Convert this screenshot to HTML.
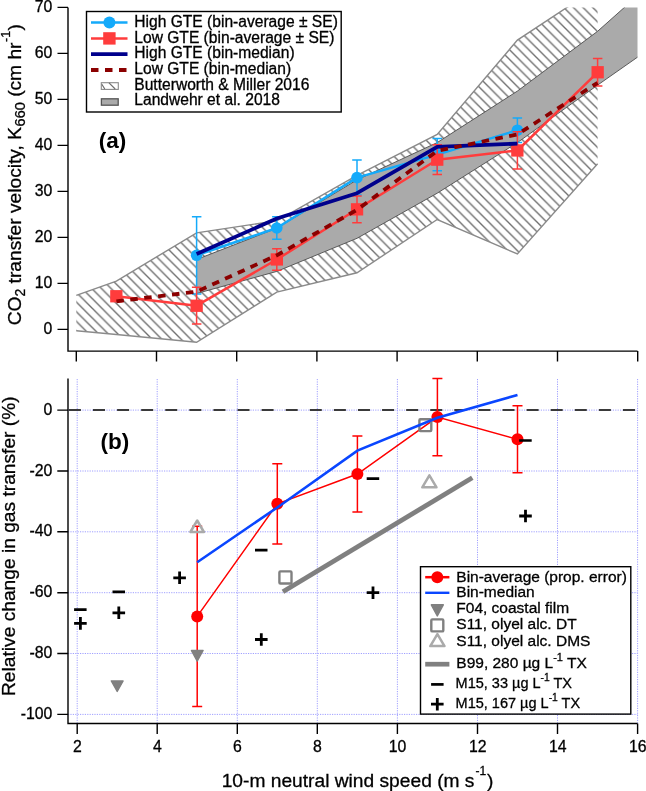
<!DOCTYPE html>
<html><head><meta charset="utf-8"><title>Gas transfer figure</title>
<style>
html,body{margin:0;padding:0;background:#fff;}
body{width:646px;height:791px;overflow:hidden;}
svg{display:block;}
text{font-family:"Liberation Sans",sans-serif;fill:#000;stroke:#000;stroke-width:0.3px;}
svg{will-change:transform;}
.tk{font-size:15.8px;}
.lg{font-size:15.5px;}
.at{font-size:19.2px;}
.pl{font-size:22.5px;font-weight:bold;stroke-width:0;}
</style></head><body>
<svg width="646" height="791" viewBox="0 0 646 791"><defs>
<clipPath id="ct"><rect x="68.0" y="7.4" width="569.5" height="343.70000000000005"/></clipPath>
<clipPath id="cb"><rect x="68.0" y="375.5" width="572.5" height="348.0"/></clipPath>
<pattern id="hp" patternUnits="userSpaceOnUse" width="9.654" height="9.654" x="6.05" y="0"><path d="M-2.4135,-2.4135 L12.067499999999999,12.067499999999999 M-2.4135,7.2405 L2.4135,12.067499999999999 M7.2405,-2.4135 L12.067499999999999,2.4135" stroke="#6e6e6e" stroke-width="1.35"/></pattern>
</defs>
<g clip-path="url(#ct)">
<polygon points="76.3,295.4 116.4,281.1 196.6,232.8 276.8,220.8 357,175.3 437.2,134.4 517.4,40.1 597.6,-12.8 597.6,163.8 517.4,254 437.2,219.5 357,272.8 276.8,292.1 196.6,342.3 116.4,334.5 76.3,330.8" fill="url(#hp)"/>
<polyline points="76.3,295.4 116.4,281.1 196.6,232.8 276.8,220.8 357,175.3 437.2,134.4 517.4,40.1 597.6,-12.8" fill="none" stroke="#8a8a8a" stroke-width="1.4"/>
<polyline points="76.3,330.8 116.4,334.5 196.6,342.3 276.8,292.1 357,272.8 437.2,219.5 517.4,254 597.6,163.8" fill="none" stroke="#8a8a8a" stroke-width="1.4"/>
<polygon points="196.6,259.5 276.8,228.2 357,179.9 437.2,142.6 517.4,91.1 597.6,31.3 638.9,-5.5 638.9,56.2 597.6,85.1 517.4,142.6 437.2,193.2 357,238.3 276.8,271.4 196.6,293.5" fill="#aaaaaa"/>
<polyline points="196.6,259.5 276.8,228.2 357,179.9 437.2,142.6 517.4,91.1 597.6,31.3 638.9,-5.5" fill="none" stroke="#5a5a5a" stroke-width="1"/>
<polyline points="196.6,293.5 276.8,271.4 357,238.3 437.2,193.2 517.4,142.6 597.6,85.1 638.9,56.2" fill="none" stroke="#5a5a5a" stroke-width="1"/>
<polyline points="196.6,255.3 276.8,228 357,177.6 437.2,154.6 517.4,130.2" fill="none" stroke="#14aafa" stroke-width="2.5" stroke-linejoin="round"/>
<path d="M196.6,216.7V294M191.9,216.7h9.5M191.9,294h9.5" stroke="#14aafa" stroke-width="1.5" fill="none"/>
<path d="M276.8,216.7V239.2M272.1,216.7h9.5M272.1,239.2h9.5" stroke="#14aafa" stroke-width="1.5" fill="none"/>
<path d="M357,160.1V195.1M352.2,160.1h9.5M352.2,195.1h9.5" stroke="#14aafa" stroke-width="1.5" fill="none"/>
<path d="M437.2,138.5V170.7M432.5,138.5h9.5M432.5,170.7h9.5" stroke="#14aafa" stroke-width="1.5" fill="none"/>
<path d="M517.4,118V142.4M512.6,118h9.5M512.6,142.4h9.5" stroke="#14aafa" stroke-width="1.5" fill="none"/>
<circle cx="196.6" cy="255.3" r="5.8" fill="#14aafa"/>
<circle cx="276.8" cy="228" r="5.8" fill="#14aafa"/>
<circle cx="357" cy="177.6" r="5.8" fill="#14aafa"/>
<circle cx="437.2" cy="154.6" r="5.8" fill="#14aafa"/>
<circle cx="517.4" cy="130.2" r="5.8" fill="#14aafa"/>
<polyline points="116.4,296.3 196.6,305.7 276.8,259.5 357,209.3 437.2,159.7 517.4,150.5 597.6,72.3" fill="none" stroke="#ff3c3c" stroke-width="2.5" stroke-linejoin="round"/>
<path d="M116.4,293.5V299M111.7,293.5h9.5M111.7,299h9.5" stroke="#ff3c3c" stroke-width="1.5" fill="none"/>
<path d="M196.6,287.3V324.1M191.9,287.3h9.5M191.9,324.1h9.5" stroke="#ff3c3c" stroke-width="1.5" fill="none"/>
<path d="M276.8,248.7V270.3M272.1,248.7h9.5M272.1,270.3h9.5" stroke="#ff3c3c" stroke-width="1.5" fill="none"/>
<path d="M357,196V222.7M352.2,196h9.5M352.2,222.7h9.5" stroke="#ff3c3c" stroke-width="1.5" fill="none"/>
<path d="M437.2,144.7V174.6M432.5,144.7h9.5M432.5,174.6h9.5" stroke="#ff3c3c" stroke-width="1.5" fill="none"/>
<path d="M517.4,131.8V169.1M512.6,131.8h9.5M512.6,169.1h9.5" stroke="#ff3c3c" stroke-width="1.5" fill="none"/>
<path d="M597.6,58.5V86.1M592.9,58.5h9.5M592.9,86.1h9.5" stroke="#ff3c3c" stroke-width="1.5" fill="none"/>
<rect x="110.2" y="290.1" width="12.3" height="12.3" fill="#ff3c3c"/>
<rect x="190.5" y="299.6" width="12.3" height="12.3" fill="#ff3c3c"/>
<rect x="270.7" y="253.3" width="12.3" height="12.3" fill="#ff3c3c"/>
<rect x="350.9" y="203.2" width="12.3" height="12.3" fill="#ff3c3c"/>
<rect x="431.1" y="153.5" width="12.3" height="12.3" fill="#ff3c3c"/>
<rect x="511.2" y="144.3" width="12.3" height="12.3" fill="#ff3c3c"/>
<rect x="591.5" y="66.1" width="12.3" height="12.3" fill="#ff3c3c"/>
<polyline points="196.6,254 276.8,218.5 357,193.2 437.2,146.8 517.4,143.6" fill="none" stroke="#00008c" stroke-width="3.8" stroke-linejoin="round"/>
<polyline points="116.4,301.3 196.6,291.7 276.8,255.3 357,209.8 437.2,150.9 517.4,134.4 597.6,82.8" fill="none" stroke="#8b0000" stroke-width="3.8" stroke-dasharray="7.5 6.5"/>
</g>
<g stroke="#000" stroke-width="1.4" fill="none">
<path d="M68.0,7.4V351.1H637.5"/>
<path d="M57.5,329.4H68.0M57.5,283.4H68.0M57.5,237.4H68.0M57.5,191.4H68.0M57.5,145.4H68.0M57.5,99.4H68.0M57.5,53.4H68.0M57.5,7.4H68.0M76.3,351.1V361.5M156.5,351.1V361.5M236.7,351.1V361.5M316.9,351.1V361.5M397.1,351.1V361.5M477.3,351.1V361.5M557.5,351.1V361.5M637.7,351.1V361.5"/>
</g>
<path d="M77.2,379.0V723.5M157.2,379.0V723.5M237.3,379.0V723.5M317.3,379.0V723.5M397.4,379.0V723.5M477.5,379.0V723.5M557.5,379.0V723.5M637.6,379.0V723.5M68.0,410.1H637.5M68.0,471H637.5M68.0,531.8H637.5M68.0,592.7H637.5M68.0,653.5H637.5M68.0,714.4H637.5" stroke="#a0a0ff" stroke-width="1" stroke-dasharray="1.2 1.2" fill="none"/>
<path d="M68.9,410.1H637.5" stroke="#3a3a3a" stroke-width="2" stroke-dasharray="12 12.09" fill="none"/>
<g clip-path="url(#cb)">
<path d="M282.9,591.8L472.3,477.7" stroke="#808080" stroke-width="4.8" fill="none"/>
<polyline points="197.2,616.4 277.3,503.8 357.4,474 437.4,417.1 517.5,439.3" fill="none" stroke="#ff0000" stroke-width="1.5"/>
<path d="M197.2,526.3V706.5M192.2,526.3h10M192.2,706.5h10" stroke="#ff0000" stroke-width="1.5" fill="none"/>
<path d="M277.3,463.7V544M272.3,463.7h10M272.3,544h10" stroke="#ff0000" stroke-width="1.5" fill="none"/>
<path d="M357.4,436V512M352.4,436h10M352.4,512h10" stroke="#ff0000" stroke-width="1.5" fill="none"/>
<path d="M437.4,378.5V455.7M432.4,378.5h10M432.4,455.7h10" stroke="#ff0000" stroke-width="1.5" fill="none"/>
<path d="M517.5,405.8V472.8M512.5,405.8h10M512.5,472.8h10" stroke="#ff0000" stroke-width="1.5" fill="none"/>
<circle cx="197.2" cy="616.4" r="6" fill="#ff0000"/>
<circle cx="277.3" cy="503.8" r="6" fill="#ff0000"/>
<circle cx="357.4" cy="474" r="6" fill="#ff0000"/>
<circle cx="437.4" cy="417.1" r="6" fill="#ff0000"/>
<circle cx="517.5" cy="439.3" r="6" fill="#ff0000"/>
<path d="M111.3,680.9L123.1,680.9L117.2,691.5Z" fill="#808080" stroke="#808080" stroke-width="1.4" stroke-linejoin="round"/>
<path d="M191.4,650.5L203.1,650.5L197.2,661.1Z" fill="#808080" stroke="#808080" stroke-width="1.4" stroke-linejoin="round"/>
<rect x="279.4" y="571.4" width="12.1" height="12.1" rx="1" fill="none" stroke="#808080" stroke-width="2.4"/>
<rect x="419.4" y="419.2" width="11.9" height="11.9" rx="1" fill="none" stroke="#808080" stroke-width="2.4"/>
<path d="M190.4,532L203.9,532L197.2,520.5Z" fill="none" stroke="#aaaaaa" stroke-width="2.5" stroke-linejoin="round"/>
<path d="M422.3,487.3L436.5,487.3L429.4,475.3Z" fill="none" stroke="#aaaaaa" stroke-width="2.5" stroke-linejoin="round"/>
<path d="M74.1,609.7h12.5" stroke="#000" stroke-width="2.7" fill="none"/>
<path d="M112.5,591.8h12.5" stroke="#000" stroke-width="2.7" fill="none"/>
<path d="M255,550.1h12.5" stroke="#000" stroke-width="2.7" fill="none"/>
<path d="M366.7,478.6h12.5" stroke="#000" stroke-width="2.7" fill="none"/>
<path d="M519.2,440.5h12.5" stroke="#000" stroke-width="2.7" fill="none"/>
<path d="M74.1,623.4h12.6M80.4,617.1v12.6" stroke="#000" stroke-width="2.8" fill="none"/>
<path d="M112.5,612.8h12.6M118.8,606.5v12.6" stroke="#000" stroke-width="2.8" fill="none"/>
<path d="M173.3,577.8h12.6M179.6,571.5v12.6" stroke="#000" stroke-width="2.8" fill="none"/>
<path d="M255,639.5h12.6M261.3,633.2v12.6" stroke="#000" stroke-width="2.8" fill="none"/>
<path d="M366.7,592.7h12.6M373,586.4v12.6" stroke="#000" stroke-width="2.8" fill="none"/>
<path d="M519.2,516h12.6M525.5,509.7v12.6" stroke="#000" stroke-width="2.8" fill="none"/>
<polyline points="197.2,562.2 277.3,507.5 357.4,450.6 437.4,417.7 517.5,394.9" fill="none" stroke="#0a46ff" stroke-width="2.6"/>
</g>
<g stroke="#000" stroke-width="1.4" fill="none">
<path d="M68.0,378.5V723.5H637.5"/>
<path d="M57.3,410.1H68.0M57.3,471H68.0M57.3,531.8H68.0M57.3,592.7H68.0M57.3,653.5H68.0M57.3,714.4H68.0M77.2,723.5V734M157.2,723.5V734M237.3,723.5V734M317.3,723.5V734M397.4,723.5V734M477.5,723.5V734M557.5,723.5V734M637.6,723.5V734"/>
</g>
<rect x="86.5" y="11.5" width="254.7" height="100.5" fill="#fff" stroke="#000" stroke-width="1.4"/>
<path d="M91,22.6H127.5" stroke="#14aafa" stroke-width="2.5"/>
<circle cx="109.4" cy="22.6" r="6" fill="#14aafa"/>
<path d="M91,38.4H127.5" stroke="#ff3c3c" stroke-width="2.5"/>
<rect x="103.2" y="32.199999999999996" width="12.4" height="12.4" fill="#ff3c3c"/>
<path d="M91,54.2H127.5" stroke="#00008c" stroke-width="3.8"/>
<path d="M91,70.0H127.5" stroke="#8b0000" stroke-width="3.8" stroke-dasharray="7.5 6.5"/>
<rect x="101.3" y="82.7" width="17" height="6.7" fill="#fff" stroke="#8a8a8a" stroke-width="1.1"/>
<path d="M101.8,84.2L104.8,89M109,82.9L115.2,89" stroke="#6e6e6e" stroke-width="1.2"/>
<rect x="101.4" y="98.8" width="16.8" height="6.4" fill="#aaaaaa" stroke="#555" stroke-width="1.3"/>
<text x="134.3" y="26.9" class="lg" style="font-size:15.6px">High GTE (bin-average ± SE)</text>
<text x="134.3" y="42.6" class="lg" style="font-size:15.6px">Low GTE (bin-average ± SE)</text>
<text x="134.3" y="58.3" class="lg" style="font-size:15.6px">High GTE (bin-median)</text>
<text x="134.3" y="73.9" class="lg" style="font-size:15.6px">Low GTE (bin-median)</text>
<text x="134.3" y="89.6" class="lg" style="font-size:15.6px">Butterworth &amp; Miller 2016</text>
<text x="134.3" y="105.3" class="lg" style="font-size:15.6px">Landwehr et al. 2018</text>
<rect x="420.5" y="566.7" width="210.3" height="147.4" fill="#fff" stroke="#000" stroke-width="1.4"/>
<path d="M425.2,577.2H449.4" stroke="#ff0000" stroke-width="2.5"/>
<circle cx="437.3" cy="577.2" r="6" fill="#ff0000"/>
<path d="M425.2,592.8H449.4" stroke="#0a46ff" stroke-width="2.4"/>
<path d="M431.3,604.8L443.3,604.8L437.3,616Z" fill="#808080" stroke="#808080" stroke-width="1.4" stroke-linejoin="round"/>
<rect x="431.3" y="619.4" width="12" height="12" rx="1" fill="none" stroke="#808080" stroke-width="2.4"/>
<path d="M430.3,646.1L444.5,646.1L437.4,634.1Z" fill="none" stroke="#aaaaaa" stroke-width="2.5" stroke-linejoin="round"/>
<path d="M425.2,664.2H449.4" stroke="#808080" stroke-width="4.7"/>
<path d="M431.1,684.4h12.5" stroke="#000" stroke-width="2.7" fill="none"/>
<path d="M431,704.2h12.6M437.3,697.9v12.6" stroke="#000" stroke-width="2.8" fill="none"/>
<text x="456.3" y="581.5" class="lg">Bin-average (prop. error)</text>
<text x="456.3" y="597.2" class="lg">Bin-median</text>
<text x="456.3" y="612.8" class="lg">F04, coastal film</text>
<text x="456.3" y="629.3" class="lg">S11, olyel alc. DT</text>
<text x="456.3" y="645.9" class="lg">S11, olyel alc. DMS</text>
<text x="456.3" y="667.7" class="lg">B99, 280 µg L<tspan dy="-7" font-size="11">-1</tspan><tspan dy="7"> TX</tspan></text>
<text x="455.6" y="688.5" class="lg" transform="translate(455.6,0) scale(0.937,1) translate(-455.6,0)">M15, 33 µg L<tspan dy="-7" font-size="11">-1</tspan><tspan dy="7"> TX</tspan></text>
<text x="455.6" y="708" class="lg" transform="translate(455.6,0) scale(0.937,1) translate(-455.6,0)">M15, 167 µg L<tspan dy="-7" font-size="11">-1</tspan><tspan dy="7"> TX</tspan></text>
<text x="52.4" y="333.9" text-anchor="end" class="tk">0</text>
<text x="52.4" y="287.9" text-anchor="end" class="tk">10</text>
<text x="52.4" y="241.9" text-anchor="end" class="tk">20</text>
<text x="52.4" y="195.9" text-anchor="end" class="tk">30</text>
<text x="52.4" y="149.9" text-anchor="end" class="tk">40</text>
<text x="52.4" y="103.9" text-anchor="end" class="tk">50</text>
<text x="52.4" y="57.9" text-anchor="end" class="tk">60</text>
<text x="52.4" y="11.9" text-anchor="end" class="tk">70</text>
<text x="52.4" y="414.6" text-anchor="end" class="tk">0</text>
<text x="52.4" y="475.5" text-anchor="end" class="tk">-20</text>
<text x="52.4" y="536.3" text-anchor="end" class="tk">-40</text>
<text x="52.4" y="597.2" text-anchor="end" class="tk">-60</text>
<text x="52.4" y="658" text-anchor="end" class="tk">-80</text>
<text x="52.4" y="718.9" text-anchor="end" class="tk">-100</text>
<text x="77.4" y="752" text-anchor="middle" class="tk">2</text>
<text x="157.4" y="752" text-anchor="middle" class="tk">4</text>
<text x="237.5" y="752" text-anchor="middle" class="tk">6</text>
<text x="317.5" y="752" text-anchor="middle" class="tk">8</text>
<text x="397.6" y="752" text-anchor="middle" class="tk">10</text>
<text x="477.7" y="752" text-anchor="middle" class="tk">12</text>
<text x="557.7" y="752" text-anchor="middle" class="tk">14</text>
<text x="637.8" y="752" text-anchor="middle" class="tk">16</text>
<text x="98.8" y="148.3" class="pl">(a)</text>
<text x="100.6" y="449" class="pl">(b)</text>
<text x="221.7" y="786.6" class="at">10-m neutral wind speed (m s<tspan dx="1" dy="-11.3" font-size="12">-1</tspan><tspan dx="1" dy="11.3">)</tspan></text>
<text transform="translate(21,325.3) rotate(-90)" class="at">CO<tspan dy="3.5" font-size="14">2</tspan><tspan dy="-3.5"> transfer velocity, K</tspan><tspan dx="0.6" dy="3.5" font-size="14.5">660</tspan><tspan dy="-3.5"> (cm hr</tspan><tspan dx="0.6" dy="-11.3" font-size="12.5">-1</tspan><tspan dx="0.2" dy="11.3">)</tspan></text>
<text transform="translate(15.3,696) rotate(-90)" class="at">Relative change in gas transfer (%)</text></svg>
</body></html>
